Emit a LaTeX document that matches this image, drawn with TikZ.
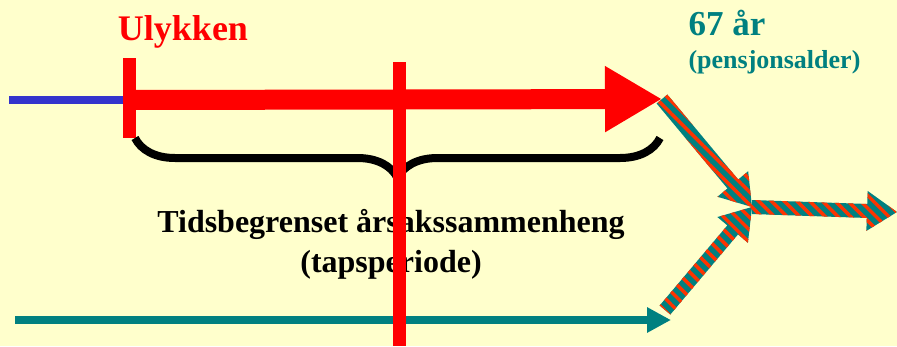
\documentclass[tikz,border=0pt]{standalone}
\usepackage{fontspec}
\setmainfont{Liberation Serif}
\usetikzlibrary{calc}
\usetikzlibrary{positioning}
\usetikzlibrary{arrows.meta}
\usetikzlibrary{patterns.meta}
\usetikzlibrary{decorations.pathreplacing}

\definecolor{paper}{HTML}{FFFFCC}
\definecolor{ulred}{HTML}{FF0000}
\definecolor{pteal}{HTML}{008080}
\definecolor{lifeblue}{HTML}{3333CC}
\definecolor{stripered}{HTML}{FF3300}

\tikzset{
    stripy/.style={preaction={fill=pteal}, pattern={Lines[angle=-45,distance=9pt,line width=3.5pt]}, pattern color=stripered},
    lifeline/.style={lifeblue, line width=8pt},
    lossline/.style={ulred, line width=20pt, -{Triangle[length=57pt,width=62pt]}},
    healthline/.style={pteal, line width=8pt, -{Triangle[length=24pt,width=24pt]}},
    cutline/.style={ulred, line width=13pt},
    bigtext/.style={font=\bfseries\fontsize{32}{36}\selectfont},
}

% striped fat arrow from #1 to #2
\newcommand\fatarrow[2]{%
    \coordinate (fa-h) at ($(#2)!30pt!(#1)$);
    \path[stripy] ($(#1)!7pt!90:(#2)$) -- ($(fa-h)!7pt!-90:(#1)$) -- ($(fa-h)!20pt!-90:(#1)$)
        -- (#2) -- ($(fa-h)!20pt!90:(#1)$) -- ($(fa-h)!7pt!90:(#1)$) -- ($(#1)!7pt!-90:(#2)$) -- cycle;}

\begin{document}
\begin{tikzpicture}[x=1pt, y=-1pt]
            \fill[paper] (0,0) rectangle (897,346);
            \useasboundingbox (0,0) rectangle (897,346);

            \coordinate (birth) at (9,100);
            \coordinate (accident) at (129.5,100);
            \coordinate (pension) at (662,99);
            \coordinate (join) at (752,207);
            \coordinate (future) at (897,212);
            \coordinate (healthy) at (15,320);
            \coordinate (healthytip) at (671,320);
            \coordinate (back) at (665,310);

            \draw[lifeline] (birth) -- (accident);
            \draw[lossline] (accident) -- (pension);
            \draw[healthline] (healthy) -- (healthytip);
            \draw[cutline] ($(accident) + (0,-42)$) -- ($(accident) + (0,38)$);

            \draw[line width=8pt, decorate, decoration={brace, amplitude=40pt}] (660,138) -- (135,138);

            \fatarrow{pension}{join}
            \fatarrow{back}{join}
            \fatarrow{join}{future}

            \draw (183,40) node[anchor=base, text=ulred, font=\bfseries\fontsize{36}{40}\selectfont] (ulykke) {Ulykken};
            \draw (685,35) node[anchor=base west, text=pteal, font=\bfseries\fontsize{35}{40}\selectfont] (age) {67 år};
            \draw (685,68) node[anchor=base west, text=pteal, font=\bfseries\fontsize{26}{30}\selectfont] (agenote) {(pensjonsalder)};

            \draw (391,232) node[anchor=base, bigtext] (period) {Tidsbegrenset årsakssammenheng};
            \draw (391,272) node[anchor=base, bigtext] (periodnote) {(tapsperiode)};

            \draw[cutline] (399,62) -- (399,346);
        \end{tikzpicture}
\end{document}
